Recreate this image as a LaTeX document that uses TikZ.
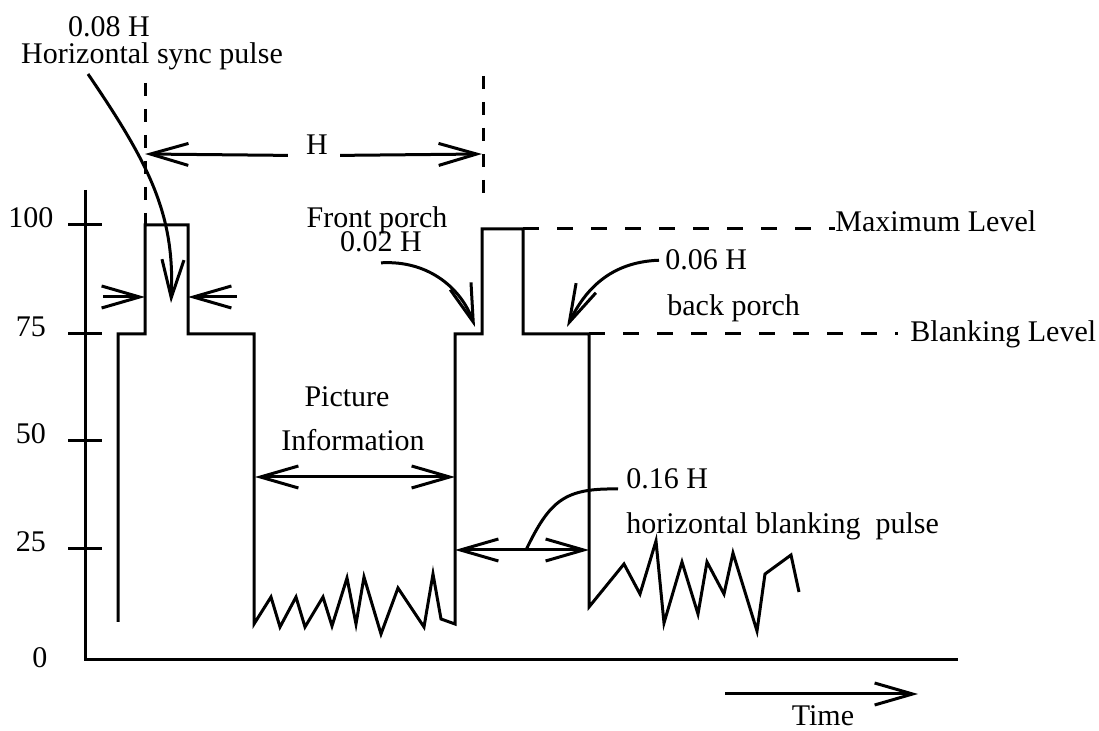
\documentclass[tikz,border=0pt]{standalone}
\usepackage{fontspec}
\setmainfont{Liberation Serif}
\usetikzlibrary{arrows.meta}

\begin{document}
\begin{tikzpicture}[x=0.5pt, y=-0.5pt,
    >={Straight Barb[length=19pt, width=11pt]},
    lbl/.style={font=\fontsize{15}{16}\selectfont, inner sep=0pt, anchor=base},
    sig/.style={line width=1.5pt, line join=miter},
    dim/.style={line width=1.5pt},
    vdash/.style={line width=1.5pt, dash pattern=on 6.5pt off 6.5pt},
    hdash/.style={line width=1.5pt, dash pattern=on 8pt off 9pt}]
  \useasboundingbox (0,0) rectangle (1099,731);

  % axes and level ticks
  \draw[line width=1.5pt] (85,190) -- (85,660) -- (958,660);
  \foreach \lev/\y in {100/225, 75/334, 50/441, 25/549} {
    \draw[line width=1.5pt] (68,\y) -- (102,\y);
    \node[lbl] (tick\lev) at (31,\y+3) {\lev};
  }
  \node[lbl] (tick0) at (40,668) {0};

  % video signal over one line
  \draw[sig] (118,622) -- (118,334) -- (145,334) -- (145,225) -- (188,225) -- (188,334)
    -- (254,334) -- (254,624) -- (271,597) -- (280,627) -- (296,597) -- (305,627)
    -- (323,597) -- (332,626) -- (347,578) -- (356,624) -- (364,577) -- (381,634)
    -- (398,588) -- (424,627) -- (433,574) -- (441,619) -- (455,624) -- (455,334)
    -- (482,334) -- (482,229) -- (523,229) -- (523,334) -- (589,334) -- (589,607)
    -- (624,564) -- (640,594) -- (656,541) -- (664,623) -- (682,562) -- (698,614)
    -- (707,562) -- (724,594) -- (733,553) -- (757,631) -- (765,574) -- (791,555)
    -- (799,592);

  % levels
  \coordinate (maxstart) at (523,229);
  \coordinate (blkstart) at (589,334);
  \node[lbl, anchor=base west] (maxlvl) at (835,232) {Maximum Level};
  \node[lbl, anchor=base west] (blklvl) at (910,342) {Blanking Level};
  \draw[hdash] (maxstart) -- (maxstart -| maxlvl.west);
  \draw[hdash, shorten >=6pt] (blkstart) -- (blkstart -| blklvl.west);

  % line period H
  \coordinate (hTopL) at (145,83);
  \coordinate (hTopR) at (483,76);
  \coordinate (hArrL) at (145,154);
  \coordinate (hArrR) at (482,154);
  \draw[vdash] (hTopL) -- (145,225);
  \draw[vdash] (hTopR) -- (483,203);
  \node[lbl] (hlab) at (317,155) {H};
  \draw[dim, ->] ([xshift=-9pt]hlab.south west) -- (hArrL);
  \draw[dim, ->] ([xshift=6pt]hlab.south east) -- (hArrR);

  % sync pulse
  \node[lbl] (syncval) at (109,37) {0.08 H};
  \node[lbl] (synclab) at (152,64) {Horizontal sync pulse};
  \coordinate (syncfoot) at (88,74);
  \coordinate (synctip) at (171,303);
  \draw[dim, ->] (syncfoot) .. controls (150,165) and (175,215) .. (synctip);
  \coordinate (syncL) at (145,297);
  \coordinate (syncR) at (188,297);
  \draw[dim, <-] (syncL) -- ++(-42,0);
  \draw[dim, <-] (syncR) -- ++(49,0);

  % front porch
  \node[lbl] (fpname) at (377,228) {Front porch};
  \node[lbl] (fpval) at (381,252) {0.02 H};
  \coordinate (fptip) at (475,327);
  \draw[dim, ->] ([yshift=-5pt]fpval.south) .. controls (430,260) and (462,290) .. (fptip);

  % back porch
  \node[lbl, anchor=base west] (bpval) at (665,270) {0.06 H};
  \node[lbl, anchor=base west] (bpname) at (667,316) {back porch};
  \coordinate (bptip) at (567,327);
  \draw[dim, ->] ([xshift=-3pt]bpval.west) .. controls (610,262) and (585,290) .. (bptip);

  % picture information
  \node[lbl] (picA) at (347,407) {Picture};
  \node[lbl] (picB) at (353,451) {Information};
  \coordinate (piL) at (255,477);
  \coordinate (piR) at (455,477);
  \draw[dim, <->] (piL) -- (piR);

  % horizontal blanking pulse
  \node[lbl, anchor=base west] (hbval) at (626,489) {0.16 H};
  \node[lbl, anchor=base west] (hblab) at (626,534) {horizontal blanking\ \ pulse};
  \coordinate (hbL) at (455,550);
  \coordinate (hbR) at (589,550);
  \coordinate (hbmid) at (526,550);
  \draw[dim, <->] (hbL) -- (hbR);
  \draw[dim] (hbmid) .. controls (550,500) and (565,488) .. ([xshift=-4pt]hbval.base west);

  % time
  \coordinate (tA) at (725,694);
  \coordinate (tB) at (918,694);
  \draw[dim, ->] (tA) -- (tB);
  \node[lbl] (timelab) at (823,726) {Time};
\end{tikzpicture}
\end{document}
